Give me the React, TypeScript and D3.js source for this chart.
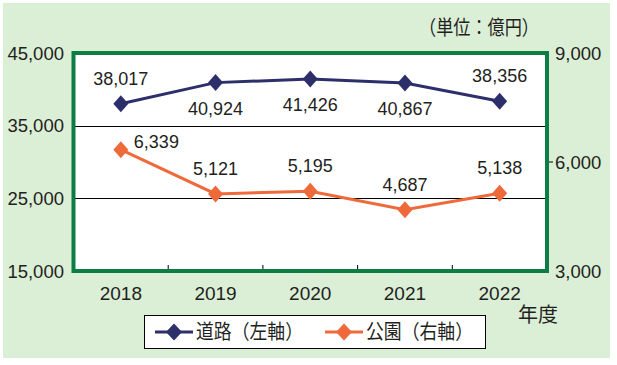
import { useRef, useEffect } from 'react';
import * as d3 from 'd3';

const years = ['2018', '2019', '2020', '2021', '2022'];
const roadValues = [38017, 40924, 41426, 40867, 38356];
const parkValues = [6339, 5121, 5195, 4687, 5138];
const leftTicks = [15000, 25000, 35000, 45000];
const rightTicks = [3000, 6000, 9000];
// label placement: true = above the point
const roadLabelAbove = [true, false, false, false, true];

const NAVY = '#2c2f6a';
const ORANGE = '#ef6a3a';
const GREEN = '#0b7d45';
const BG = '#dbeed6';
const FONT = '"Liberation Sans", Arial, sans-serif';
const JP = '"Noto Sans CJK JP", sans-serif';

// diamond marker, slightly taller than wide
const diamondPath = (w: number, h: number) => `M0,${-h / 2}L${w / 2},0L0,${h / 2}L${-w / 2},0Z`;

export default function App() {
  const svgRef = useRef<SVGSVGElement>(null);

  useEffect(() => {
    if (!svgRef.current) return;
    const svg = d3.select(svgRef.current);
    svg.selectAll('*').remove();
    const L = 73.5, R = 547, T = 53, B = 271;

    svg.append('rect').attr('x', 3).attr('y', 3).attr('width', 607).attr('height', 355).attr('fill', BG);
    svg.append('rect').attr('x', L).attr('y', T).attr('width', R - L).attr('height', B - T).attr('fill', '#fff');

    const x = d3.scaleBand().domain(years).range([L, R]);
    const cx = (d: string) => x(d)! + x.bandwidth() / 2;
    const yL = d3.scaleLinear().domain([15000, 45000]).range([B, T]);
    const yR = d3.scaleLinear().domain([3000, 9000]).range([B, T]);
    const fmt = d3.format(',');

    // grid lines
    svg.append('g').selectAll('line').data([25000, 35000]).enter().append('line')
      .attr('x1', L).attr('x2', R).attr('y1', d => Math.round(yL(d)) + 0.5).attr('y2', d => Math.round(yL(d)) + 0.5)
      .attr('stroke', '#000').attr('stroke-width', 1);

    // bottom ticks at band boundaries (pointing inward)
    svg.append('g').selectAll('line').data(years.slice(1)).enter().append('line')
      .attr('x1', d => x(d)!).attr('x2', d => x(d)!).attr('y1', B).attr('y2', B - 6)
      .attr('stroke', '#000').attr('stroke-width', 1);

    // right tick
    svg.append('line').attr('x1', R).attr('x2', R + 6).attr('y1', yR(6000)).attr('y2', yR(6000)).attr('stroke', '#000');

    svg.append('rect').attr('x', L).attr('y', T).attr('width', R - L).attr('height', B - T)
      .attr('fill', 'none').attr('stroke', GREEN).attr('stroke-width', 4);

    // axis labels
    svg.append('g').selectAll('text').data(leftTicks).enter().append('text')
      .attr('x', 64).attr('y', d => yL(d) + 6.5).attr('text-anchor', 'end')
      .attr('font-family', FONT).attr('font-size', 18.5).attr('fill', '#231f20')
      .text(d => fmt(d));
    svg.append('g').selectAll('text').data(rightTicks).enter().append('text')
      .attr('x', 555).attr('y', d => yR(d) + 6.5).attr('text-anchor', 'start')
      .attr('font-family', FONT).attr('font-size', 18.5).attr('fill', '#231f20')
      .text(d => fmt(d));
    svg.append('g').selectAll('text').data(years).enter().append('text')
      .attr('x', d => cx(d)).attr('y', 300).attr('text-anchor', 'middle')
      .attr('font-family', FONT).attr('font-size', 19).attr('fill', '#231f20')
      .text(d => d);
    svg.append('text').attr('x', 518).attr('y', 322).attr('textLength', 40).attr('lengthAdjust', 'spacingAndGlyphs')
      .attr('font-family', JP).attr('font-size', 20).attr('fill', '#231f20').text('年度');
    svg.append('text').attr('x', 419).attr('y', 35).attr('textLength', 120).attr('lengthAdjust', 'spacingAndGlyphs')
      .attr('font-family', JP).attr('font-size', 20).attr('fill', '#231f20').text('（単位：億円）');

    const marker = diamondPath(15, 17);

    // road series
    const roadPts = years.map((d, i) => [cx(d), yL(roadValues[i])] as [number, number]);
    svg.append('path').attr('d', d3.line()(roadPts)!).attr('fill', 'none').attr('stroke', NAVY).attr('stroke-width', 3);
    svg.append('g').selectAll('path').data(roadPts).enter().append('path')
      .attr('d', marker).attr('transform', d => `translate(${d[0]},${d[1]})`).attr('fill', NAVY);
    svg.append('g').selectAll('text').data(roadPts).enter().append('text')
      .attr('x', d => d[0])
      .attr('y', (d, i) => roadLabelAbove[i] ? d[1] - 19 : d[1] + 32)
      .attr('text-anchor', 'middle').attr('font-family', FONT).attr('font-size', 18).attr('fill', '#231f20')
      .text((_, i) => fmt(roadValues[i]));

    // park series
    const parkPts = years.map((d, i) => [cx(d), yR(parkValues[i])] as [number, number]);
    svg.append('path').attr('d', d3.line()(parkPts)!).attr('fill', 'none').attr('stroke', ORANGE).attr('stroke-width', 3);
    svg.append('g').selectAll('path').data(parkPts).enter().append('path')
      .attr('d', marker).attr('transform', d => `translate(${d[0]},${d[1]})`).attr('fill', ORANGE);
    svg.append('g').selectAll('text').data(parkPts).enter().append('text')
      .attr('x', (d, i) => i === 0 ? d[0] + 13 : d[0])
      .attr('y', (d, i) => i === 0 ? d[1] - 2 : d[1] - 19)
      .attr('text-anchor', (_, i) => i === 0 ? 'start' : 'middle')
      .attr('font-family', FONT).attr('font-size', 18).attr('fill', '#231f20')
      .text((_, i) => fmt(parkValues[i]));

    // legend
    const lg = svg.append('g');
    lg.append('rect').attr('x', 144.5).attr('y', 315.5).attr('width', 341).attr('height', 33)
      .attr('fill', '#fff').attr('stroke', '#000').attr('stroke-width', 1);
    const items = [
      { label: '道路（左軸）', color: NAVY, x: 155 },
      { label: '公園（右軸）', color: ORANGE, x: 325 },
    ];
    items.forEach(it => {
      lg.append('line').attr('x1', it.x).attr('x2', it.x + 38).attr('y1', 332).attr('y2', 332)
        .attr('stroke', it.color).attr('stroke-width', 3);
      lg.append('path').attr('d', diamondPath(16, 17)).attr('transform', `translate(${it.x + 19},332)`).attr('fill', it.color);
      lg.append('text').attr('x', it.x + 41).attr('y', 339).attr('textLength', 107).attr('lengthAdjust', 'spacingAndGlyphs')
        .attr('font-family', JP).attr('font-size', 20).attr('fill', '#231f20').text(it.label);
    });
  }, []);

  return (
    <div style={{ position: 'absolute', left: 0, top: 0 }}>
      <svg ref={svgRef} width={617} height={365} style={{ display: 'block', background: '#fff' }} />
    </div>
  );
}
